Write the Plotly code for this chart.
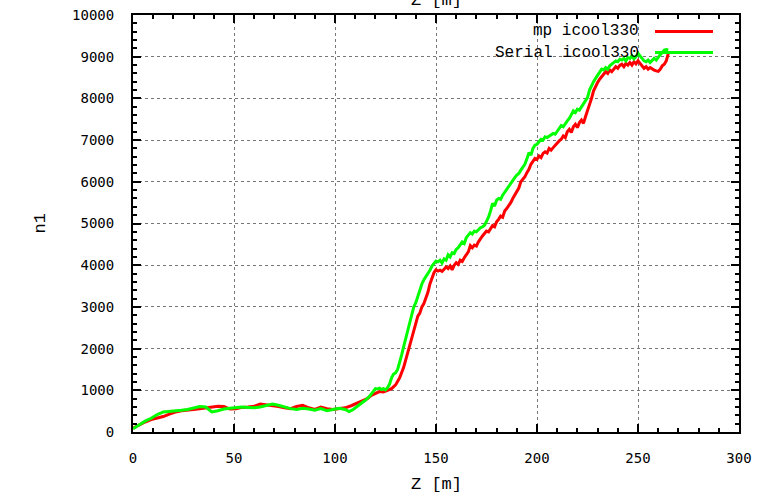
import plotly.graph_objects as go

# ---------------- data ----------------
series_names = ["mp icool330", "Serial icool330"]
series_colors = ["#ff0000", "#00ff00"]

z_mp = [0, 3, 6, 9, 12, 15, 18, 21, 24, 27, 30, 33, 36, 39, 42, 45, 48, 51, 54, 57,
        60, 63, 66, 69, 72, 75, 78, 81, 84, 87, 90, 93, 96, 99, 102, 105, 108, 111,
        114, 116, 118, 120, 122, 124, 126, 128, 130, 132, 134, 136, 138,
        139, 140, 141, 142, 143, 144, 145, 146, 147, 148, 149, 150, 151, 152, 153,
        154, 155, 156, 157, 158, 159, 160, 161, 162, 163, 164, 165, 166, 167, 168,
        169, 170, 171, 172, 173, 174, 175, 176, 177, 178, 179, 180, 181, 182, 183,
        184, 185, 186, 187, 188, 189, 190, 191, 192, 193, 194, 195, 196, 197, 198,
        199, 200, 201, 202, 203, 204, 205, 206, 207, 208, 209, 210, 211, 212, 213,
        214, 215, 216, 217, 218, 219, 220, 221, 222, 223, 224, 225, 226, 227, 228,
        229, 230, 231, 232, 233, 234, 235, 236, 237, 238, 239, 240, 241, 242, 243,
        244, 245, 246, 247, 248, 249, 250, 251, 252, 253, 254, 255, 256, 257, 258,
        259, 260, 261, 262, 263, 264, 265]
n1_mp = [90, 170, 240, 300, 330, 370, 430, 480, 510, 520, 540, 560, 580, 600, 620, 610, 550, 560, 590, 600,
         620, 670, 650, 640, 610, 580, 560, 610, 640, 580, 540, 600, 560, 540, 560, 580, 630, 690,
         760, 800, 880, 920, 970, 960, 1010, 1040, 1130, 1300, 1550, 1900, 2250,
         2450, 2650, 2780, 2850, 3000, 3080, 3200, 3350, 3550, 3700, 3820, 3890, 3860, 3880, 3850,
         3900, 3960, 3920, 3980, 3890, 4000, 4060, 4020, 4120, 4090, 4180, 4250, 4320, 4470, 4420,
         4480, 4460, 4560, 4640, 4700, 4760, 4820, 4800, 4880, 4950, 4920, 5040, 5100, 5180, 5150,
         5300, 5360, 5420, 5500, 5600, 5680, 5760, 5850, 6000, 6060, 6120, 6220, 6300, 6420, 6480,
         6560, 6540, 6620, 6580, 6680, 6720, 6690, 6800, 6760, 6820, 6880, 6920, 6980, 7020, 7100,
         7060, 7200, 7260, 7180, 7320, 7380, 7300, 7420, 7480, 7400, 7560, 7700, 7820, 8000, 8180,
         8300, 8380, 8460, 8520, 8580, 8640, 8600, 8680, 8640, 8700, 8760, 8720, 8790, 8820, 8760,
         8840, 8800, 8860, 8800, 8880, 8830, 8900, 8840, 8780, 8720, 8760, 8700, 8740, 8700, 8680,
         8660, 8650, 8700, 8780, 8820, 8900, 9080]

z_serial = [0, 3, 6, 9, 12, 15, 18, 21, 24, 27, 30, 33, 36, 39, 42, 45, 48, 51, 54, 57,
            60, 63, 66, 69, 72, 75, 78, 81, 84, 87, 90, 93, 96, 99, 102, 105, 107, 109,
            111, 113, 115, 117, 119, 120, 121, 122, 123, 124, 125, 126, 127, 128, 129,
            130, 131, 132, 133, 134, 135, 136, 137, 138, 139, 140, 141, 142, 143, 144,
            145, 146, 147, 148, 149, 150, 151, 152, 153, 154, 155, 156, 157, 158, 159,
            160, 161, 162, 163, 164, 165, 166, 167, 168, 169, 170, 171, 172, 173, 174,
            175, 176, 177, 178, 179, 180, 181, 182, 183, 184, 185, 186, 187, 188, 189,
            190, 191, 192, 193, 194, 195, 196, 197, 198, 199, 200, 201, 202, 203, 204,
            205, 206, 207, 208, 209, 210, 211, 212, 213, 214, 215, 216, 217, 218, 219,
            220, 221, 222, 223, 224, 225, 226, 227, 228, 229, 230, 231, 232, 233, 234,
            235, 236, 237, 238, 239, 240, 241, 242, 243, 244, 245, 246, 247, 248, 249,
            250, 251, 252, 253, 254, 255, 256, 257, 258, 259, 260, 261, 262, 263, 264, 265]
n1_serial = [80, 180, 260, 330, 420, 480, 490, 500, 520, 540, 580, 610, 600, 480, 510, 550, 570, 590, 600, 590,
             580, 600, 640, 670, 640, 600, 560, 540, 570, 550, 520, 560, 510, 540, 570, 540, 490, 540,
             610, 680, 760, 850, 960, 1040, 1030, 1050, 1020, 1040, 1010, 1060, 1150, 1300, 1390,
             1420, 1500, 1650, 1850, 2050, 2250, 2450, 2650, 2850, 3000, 3100, 3250, 3450, 3550, 3650,
             3720, 3800, 3880, 3980, 4050, 4100, 4080, 4120, 4050, 4150, 4120, 4250, 4200, 4300, 4280,
             4380, 4420, 4500, 4560, 4520, 4660, 4720, 4780, 4750, 4820, 4800, 4860, 4900, 4920, 4960,
             5050, 5150, 5300, 5480, 5420, 5560, 5600, 5580, 5680, 5750, 5850, 5900, 5980, 6040, 6100,
             6160, 6200, 6280, 6350, 6420, 6550, 6700, 6640, 6800, 6880, 6900, 6960, 7020, 7000, 7080,
             7060, 7100, 7120, 7160, 7140, 7220, 7280, 7350, 7320, 7400, 7460, 7520, 7600, 7700, 7660,
             7740, 7720, 7800, 7860, 7960, 8020, 8200, 8320, 8400, 8480, 8560, 8620, 8700, 8680, 8740,
             8700, 8780, 8820, 8860, 8900, 8880, 8940, 8920, 8960, 8900, 8980, 8960, 9020, 8950, 9000,
             9080, 9020, 8960, 8900, 8880, 8920, 8860, 8900, 8960, 8920, 9000, 9050, 9100, 9160, 9170, 9160]

x_tickvals = [0, 50, 100, 150, 200, 250, 300]
x_ticktext = ["0", "50", "100", "150", "200", "250", "300"]
y_tickvals = [0, 1000, 2000, 3000, 4000, 5000, 6000, 7000, 8000, 9000, 10000]
y_ticktext = ["0", "1000", "2000", "3000", "4000", "5000", "6000", "7000", "8000", "9000", "10000"]

x_title = "Z [m]"
y_title = "n1"

# ---------------- figure ----------------
fig = go.Figure()
for zs, ns, name, col in [(z_mp, n1_mp, series_names[0], series_colors[0]),
                          (z_serial, n1_serial, series_names[1], series_colors[1])]:
    fig.add_trace(go.Scatter(x=zs, y=ns, mode="lines", name=name,
                             line=dict(color=col, width=3), showlegend=False))

L, R, T, B = 133, 20, 15, 65
W, H = 759, 497
pw, ph = W - L - R, H - T - B

def px_x(p):
    return (p - L) / pw

def px_y(p):
    return (H - B - p) / ph

tick_font = dict(family="DejaVu Sans Mono", size=14, color="black")
axis_common = dict(
    showline=True, linecolor="black", linewidth=2, mirror="allticks",
    ticks="inside", ticklen=8, tickwidth=2, tickcolor="black",
    showgrid=True, gridcolor="#777777", griddash="dot", gridwidth=1,
    zeroline=False, tickfont=tick_font, automargin=False,
)
fig.update_xaxes(range=[0, 300], tickmode="array", tickvals=x_tickvals, ticktext=x_ticktext,
                 ticklabelstandoff=12,
                 minor=dict(dtick=10, ticklen=4, tickwidth=2, tickcolor="black", ticks="inside",
                            showgrid=False),
                 **axis_common)
fig.update_yaxes(range=[0, 10000], tickmode="array", tickvals=y_tickvals, ticktext=y_ticktext,
                 ticklabelstandoff=14,
                 minor=dict(dtick=200, ticklen=4, tickwidth=2, tickcolor="black", ticks="inside",
                            showgrid=False),
                 **axis_common)

label_font = dict(family="Liberation Mono", size=16, color="black")
title_font = dict(family="Liberation Mono", size=17, color="black")
annotations = [
    dict(text=x_title, x=0.5, y=px_y(484), xref="paper", yref="paper", showarrow=False,
         xanchor="center", yanchor="middle", font=title_font),
    dict(text=x_title, x=0.5, y=px_y(1), xref="paper", yref="paper", showarrow=False,
         xanchor="center", yanchor="middle", font=title_font),
    dict(text=y_title, x=px_x(40), y=0.5, xref="paper", yref="paper", showarrow=False,
         xanchor="center", yanchor="middle", textangle=-90, font=title_font),
]
shapes = []
for i, (name, col) in enumerate(zip(series_names, series_colors)):
    yy = px_y(31.5 + 21 * i)
    annotations.append(dict(text=name, x=px_x(641), y=yy, xref="paper", yref="paper",
                            showarrow=False, xanchor="right", yanchor="middle", font=label_font))
    shapes.append(dict(type="line", xref="paper", yref="paper", x0=px_x(655), x1=px_x(713),
                       y0=yy, y1=yy, line=dict(color=col, width=3)))

fig.update_layout(
    width=W, height=H, margin=dict(l=L, r=R, t=T, b=B, pad=0, autoexpand=False),
    plot_bgcolor="white", paper_bgcolor="white",
    annotations=annotations, shapes=shapes, showlegend=False,
)

fig.write_html("out.html", config={"displayModeBar": False},
               post_script="document.body.style.margin='0';document.body.style.overflow='hidden';")
